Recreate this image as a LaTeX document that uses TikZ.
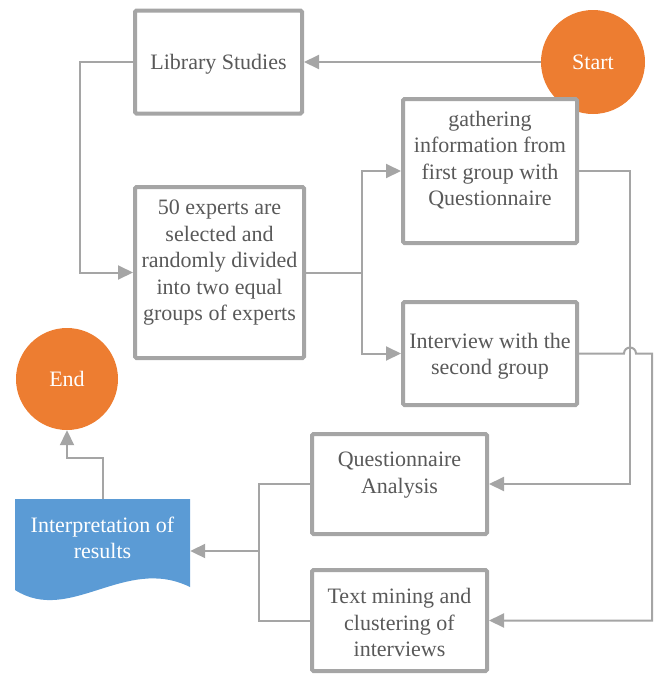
\documentclass[tikz,border=0pt]{standalone}
\usepackage{fontspec}
\setmainfont{Liberation Serif}
\newfontfamily\diagfont{Liberation Serif}
\usepackage{xcolor}
\usepackage{tikz}
\usetikzlibrary{arrows.meta, positioning, calc}
\definecolor{linegray}{HTML}{A5A5A5}
\definecolor{txtgray}{HTML}{595959}
\definecolor{termorange}{HTML}{ED7D31}
\definecolor{docblue}{HTML}{5B9BD5}
\tikzset{
  box/.style={draw=linegray, line width=4pt, rounded corners=1.5pt, fill=white, align=center, text=txtgray},
  terminal/.style={circle, fill=termorange, text=white, inner sep=0pt},
  doctext/.style={align=center, text=white, inner sep=0pt},
  conn/.style={draw=linegray, line width=2pt},
  arrow/.style={conn, -{Triangle[length=15pt, width=14pt]}},
  every node/.style={font={\diagfont\fontsize{22}{26.5}\selectfont}}
}
\begin{document}
\begin{tikzpicture}[x=1pt,y=-1pt]
    \useasboundingbox (0,0) rectangle (654,675);
    \node[terminal, minimum size=104pt] (start) at (593,62) {Start};
    \node[box, minimum width=167pt, minimum height=103pt, text height=19pt] (lib) at (218.5,62) {Library Studies};
    \node[box, minimum width=169pt, minimum height=171pt, text depth=24pt] (experts) at (219.5,272.5) {50 experts are\\selected and\\randomly divided\\into two equal\\groups of experts};
    \node[box, minimum width=174pt, minimum height=144pt, text depth=25pt] (gather) at (490,171) {gathering\\information from\\first group with\\Questionnaire};
    \node[box, minimum width=174pt, minimum height=103pt, text height=47.5pt] (interview) at (490,353.5) {Interview with the\\second group};
    \node[box, minimum width=175pt, minimum height=100pt, text depth=23pt] (qanalysis) at (399.5,484) {Questionnaire\\Analysis};
    \node[box, minimum width=175pt, minimum height=101pt, text height=73pt] (textmining) at (399.5,620.5) {Text mining and\\clustering of\\interviews};
    \fill[docblue] (15,499) -- (190,499) -- (190,587) .. controls (125,555) and (70,625) .. (15,590) -- cycle;
    \node[doctext, minimum width=175pt, minimum height=78pt] (interp) at (102.5,538) {Interpretation of\\results};
    \node[terminal, minimum size=102pt] (finish) at (67,379) {End};
    \coordinate (join) at (259,551);

    \draw[arrow] (start) -- (lib);
    \draw[arrow] (lib.west) -- ++(-53,0) |- (experts.west);
    \draw[conn] (experts.east) -- ++(56,0) coordinate (split);
    \draw[arrow] (split) |- (gather.west);
    \draw[arrow] (split) |- (interview.west);
    \draw[arrow] (gather.east) -- ++(51,0) |- (qanalysis.east);
    \draw[arrow] (interview.east) -- ++(45,0) arc[start angle=180, end angle=0, radius=6pt] -- ++(16,0) |- (textmining.east);
    \draw[conn] (qanalysis.west) -| (join) |- (textmining.west);
    \draw[arrow] (join) -- (join -| interp.east);
    \draw[arrow] (interp.north) -- ++(0,-41) -| (finish.south);
\end{tikzpicture}
\end{document}
